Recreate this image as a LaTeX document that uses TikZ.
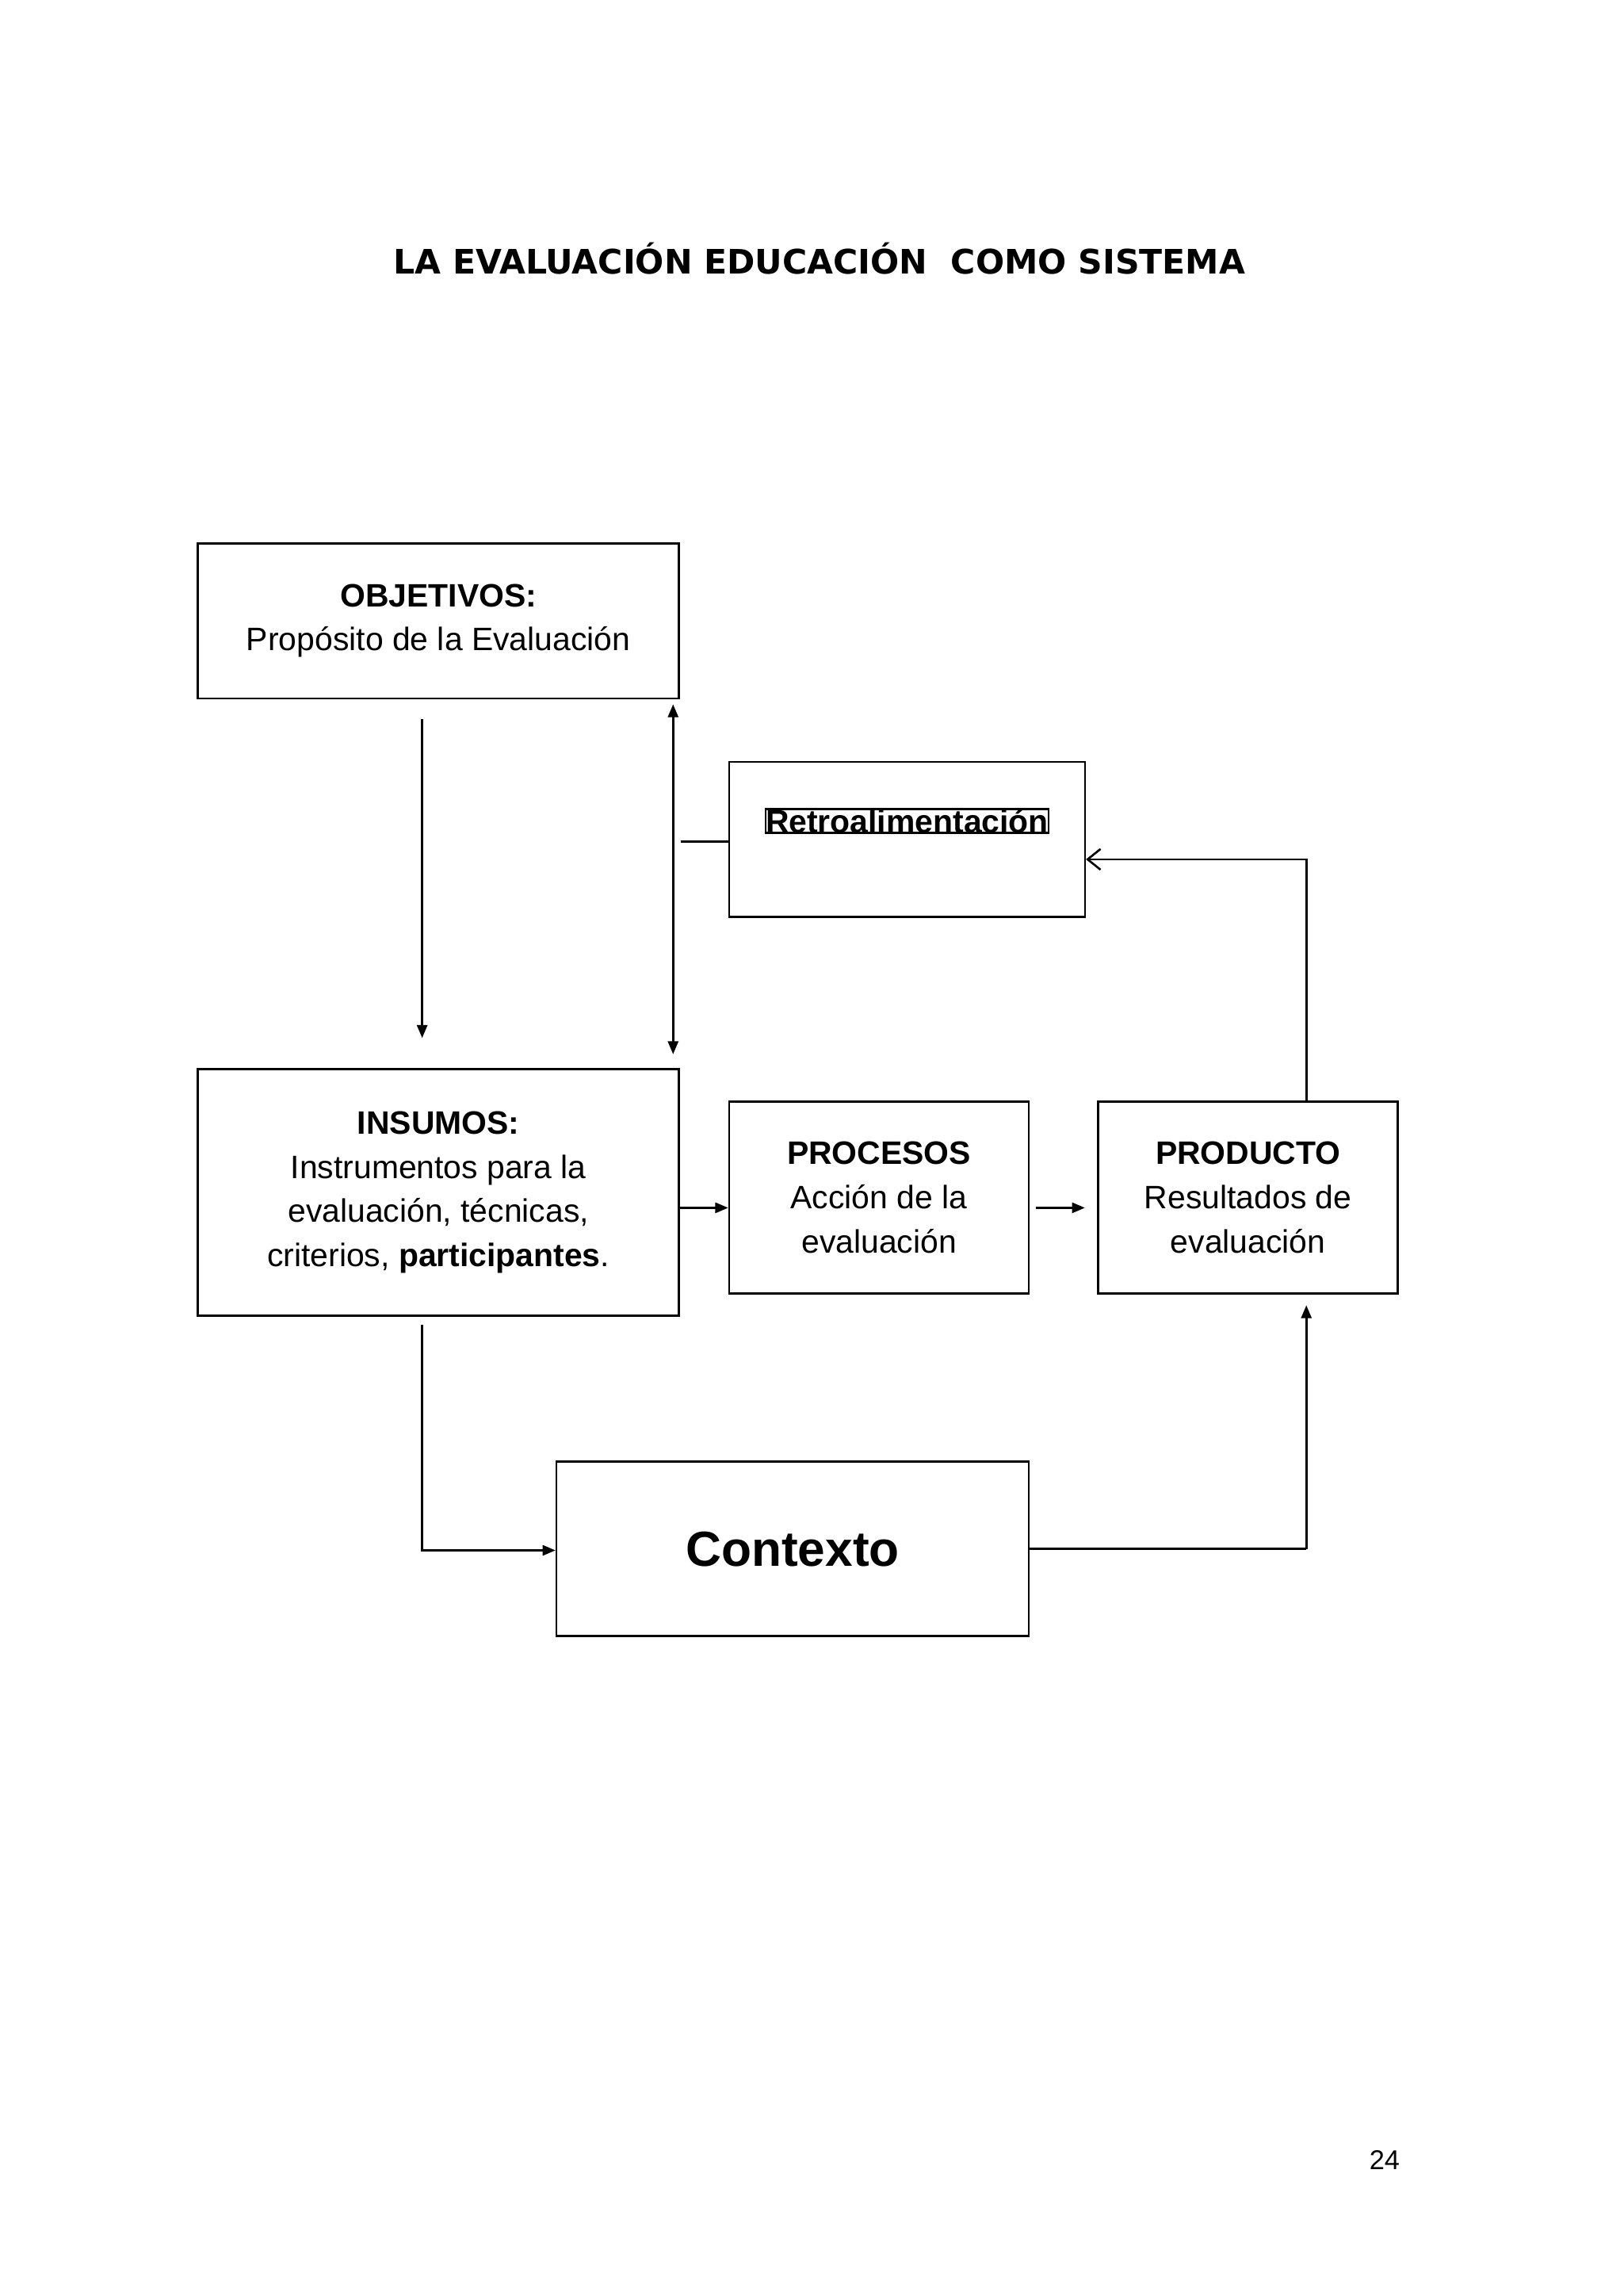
\documentclass[tikz,border=0pt]{standalone}
\usepackage{fontspec}
\setmainfont{Liberation Sans}
\newfontfamily\titlefont{DejaVu Sans}
\usetikzlibrary{arrows.meta}
\begin{document}
\begin{tikzpicture}[x=0.02cm, y=-0.02cm, thick]
    % Define block styles
    \tikzset{box/.style={draw, line width=0.8pt, inner sep=0pt, align=center, font=\fontsize{12.5}{17}\selectfont}}
    \tikzset{conn/.style={line width=0.8pt, -{Triangle[length=5pt,width=4pt]}}}
    \useasboundingbox (0,0) rectangle (1100,1555);

    % Title and page number
    \node[font=\titlefont\bfseries\fontsize{13}{15}\selectfont] (title) at (555,175) {LA EVALUACIÓN EDUCACIÓN\ \ COMO SISTEMA};
    \node[font=\fontsize{10.5}{12}\selectfont] (page) at (938,1463) {24};

    % Place main nodes
    \node[box, minimum width=326\pgflinewidth*0+6.52cm, minimum height=2.1cm] (obj) at (297,420.5) {\textbf{OBJETIVOS:}\\Propósito de la Evaluación};
    \node[box, minimum width=4.82cm, minimum height=2.1cm] (retro) at (614.5,568.5) {};
    \node[box, font=\bfseries\fontsize{12.5}{15}\selectfont] (retrotxt) at (614.5,556) {Retroalimentación};
    \node[box, minimum width=6.52cm, minimum height=3.34cm] (ins) at (297,807.5) {\textbf{INSUMOS:}\\Instrumentos para la\\evaluación, técnicas,\\criterios, \textbf{participantes}.};
    \node[box, minimum width=4.06cm, minimum height=2.6cm] (proc) at (595.5,811) {\textbf{PROCESOS}\\Acción de la\\evaluación};
    \node[box, minimum width=4.06cm, minimum height=2.6cm] (prod) at (845.5,811) {\textbf{PRODUCTO}\\Resultados de\\evaluación};
    \node[box, minimum width=6.4cm, minimum height=2.36cm, font=\bfseries\fontsize{19}{22}\selectfont] (ctx) at (537,1049) {Contexto};

    % Free ends of connectors
    \coordinate (a1) at (286,487);  \coordinate (a2) at (286,703);
    \coordinate (b1) at (456,477);  \coordinate (b2) at (456,714);
    \coordinate (c1) at (461,570);
    \coordinate (d1) at (885,582);
    \coordinate (e1) at (702,818);  \coordinate (e2) at (735,818);
    \coordinate (f1) at (286,897);  \coordinate (f2) at (286,1050);
    \coordinate (g1) at (885,1049); \coordinate (g2) at (885,884);

    % Draw connections as arrows
    \draw[conn] (a1) -- (a2);
    \draw[conn, {Triangle[length=5pt,width=4pt]}-{Triangle[length=5pt,width=4pt]}] (b1) -- (b2);
    \draw[line width=0.8pt] (c1) -- (retro.west |- c1);
    \draw[line width=0.8pt, -{Straight Barb[length=5pt,width=8pt]}] (prod.north -| d1) -- (d1) -- (retro.east |- d1);
    \draw[conn] (ins.east |- e1) -- (proc.west |- e1);
    \draw[conn] (e1) -- (e2);
    \draw[conn] (f1) -- (f2) -- (ctx.west |- f2);
    \draw[line width=0.8pt] (ctx.east |- g1) -- (g1);
    \draw[conn] (g1) -- (g2);
\end{tikzpicture}
\end{document}
